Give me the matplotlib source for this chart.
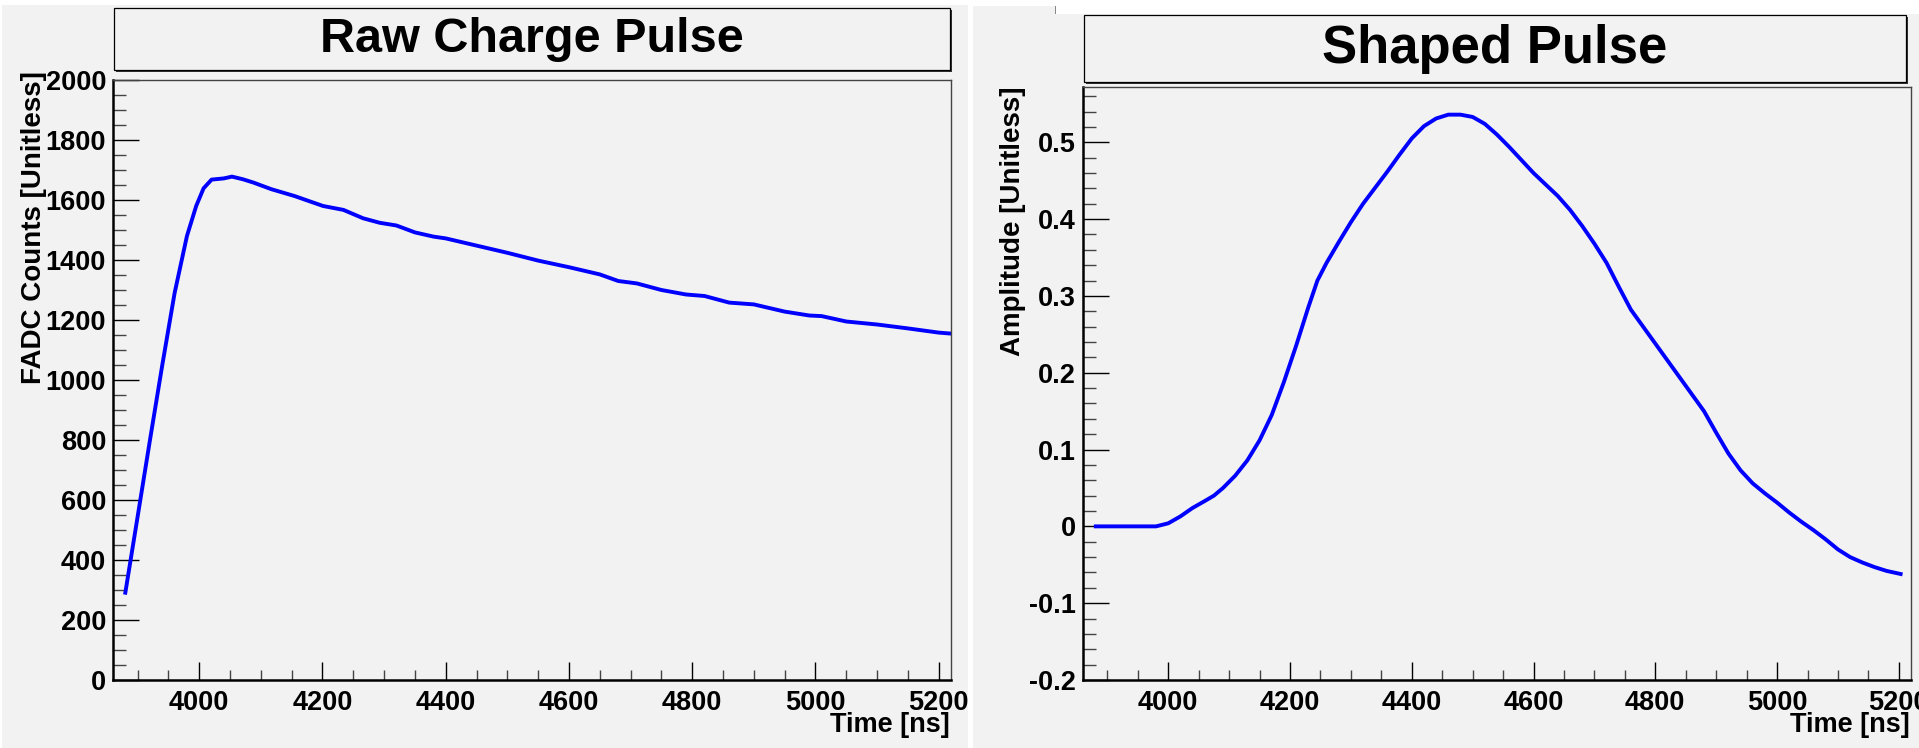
import matplotlib
matplotlib.use("Agg")
import matplotlib.pyplot as plt
from matplotlib.patches import Rectangle
from matplotlib.ticker import MultipleLocator

# raw FADC trace
raw_t = [3880, 3900, 3920, 3940, 3960, 3980, 3995, 4007, 4020, 4040, 4053, 4071,
         4088, 4117, 4155, 4180, 4201, 4234, 4266, 4293, 4320, 4350, 4380, 4400,
         4450, 4500, 4550, 4600, 4650, 4680, 4710, 4750, 4790, 4820, 4860, 4900,
         4950, 4990, 5010, 5050, 5100, 5150, 5200, 5218]
raw_v = [291, 545, 800, 1050, 1290, 1480, 1580, 1639, 1668, 1672, 1678, 1669,
         1658, 1636, 1613, 1595, 1580, 1567, 1539, 1524, 1515, 1492, 1478, 1472,
         1448, 1424, 1398, 1376, 1352, 1330, 1322, 1300, 1285, 1280, 1258, 1252,
         1228, 1215, 1213, 1195, 1185, 1172, 1158, 1155]

# shaped pulse
shp_t = [3881, 3980, 4000, 4020, 4040, 4060, 4075, 4090, 4110, 4130, 4150, 4170,
         4190, 4210, 4230, 4245, 4260, 4280, 4300, 4320, 4340, 4360, 4380, 4400,
         4420, 4440, 4460, 4480, 4500, 4520, 4540, 4560, 4580, 4600, 4620, 4640,
         4660, 4680, 4700, 4720, 4740, 4760, 4780, 4800, 4820, 4840, 4860, 4880,
         4900, 4920, 4940, 4960, 4980, 5000, 5020, 5040, 5060, 5080, 5100, 5120,
         5140, 5160, 5180, 5203]
shp_v = [0.0, 0.0, 0.004, 0.013, 0.024, 0.033, 0.040, 0.050, 0.066, 0.086, 0.112,
         0.145, 0.188, 0.235, 0.285, 0.320, 0.343, 0.370, 0.396, 0.420, 0.441,
         0.462, 0.484, 0.505, 0.521, 0.531, 0.536, 0.536, 0.533, 0.524, 0.510,
         0.494, 0.477, 0.460, 0.445, 0.430, 0.412, 0.391, 0.368, 0.343, 0.312,
         0.282, 0.260, 0.238, 0.216, 0.194, 0.172, 0.150, 0.122, 0.095, 0.073,
         0.056, 0.043, 0.031, 0.018, 0.006, -0.005, -0.017, -0.030, -0.040,
         -0.047, -0.053, -0.058, -0.062]

W, H = 1919, 748
BG = "#f2f2f2"
FONT = "Liberation Sans"


def box(x0, y0, x1, y1):
    # pixel box (top-left origin) -> figure fraction rect
    return [x0 / W, 1 - y1 / H, (x1 - x0) / W, (y1 - y0) / H]


fig = plt.figure(figsize=(W / 100, H / 100), dpi=100, facecolor="white")

# pad backgrounds (plus the sliver of another window peeking above the right pad)
for x0, y0, x1, y1 in [(2, 5, 968, 748), (973, 14, 1919, 748), (973, 6, 1055, 14)]:
    r = box(x0, y0, x1, y1)
    fig.patches.append(Rectangle((r[0], r[1]), r[2], r[3], transform=fig.transFigure,
                                 facecolor=BG, edgecolor="none", zorder=-10))
r = box(1055, 6, 1056, 14)
fig.patches.append(Rectangle((r[0], r[1]), r[2], r[3], transform=fig.transFigure,
                             facecolor="#888888", edgecolor="none", zorder=-9))


def title_box(x0, y0, x1, y1, text, size):
    r = box(x0, y0, x1, y1)
    sx, sy = 2 / W, 2 / H
    fig.patches.append(Rectangle((r[0] + sx, r[1] - sy), r[2], r[3], transform=fig.transFigure,
                                 facecolor="#333333", edgecolor="none", zorder=1))
    fig.patches.append(Rectangle((r[0], r[1]), r[2], r[3], transform=fig.transFigure,
                                 facecolor=BG, edgecolor="black", linewidth=0.9, zorder=2))
    fig.text(r[0] + r[2] / 2, r[1] + r[3] / 2, text, ha="center", va="center",
             fontsize=size, fontweight="bold", family=FONT, zorder=3)


def style_axes(ax, xmaj, xmin, ymaj, ymin):
    ax.set_facecolor(BG)
    ax.xaxis.set_major_locator(MultipleLocator(xmaj))
    ax.xaxis.set_minor_locator(MultipleLocator(xmin))
    ax.yaxis.set_major_locator(MultipleLocator(ymaj))
    ax.yaxis.set_minor_locator(MultipleLocator(ymin))
    ax.tick_params(which="both", direction="in", top=False, right=False, width=1.0)
    ax.tick_params(axis="x", which="major", length=13, pad=7, color="black")
    ax.tick_params(axis="x", which="minor", length=7, color="#444444")
    ax.tick_params(axis="y", which="major", length=18.5, pad=5, color="black")
    ax.tick_params(axis="y", which="minor", length=9.5, color="#444444")
    for side in ("left", "bottom"):
        ax.spines[side].set_linewidth(1.8)
        ax.spines[side].set_color("black")
    for side in ("top", "right"):
        ax.spines[side].set_linewidth(1.0)
        ax.spines[side].set_color("#444444")
    for lab in ax.get_xticklabels() + ax.get_yticklabels():
        lab.set_family(FONT)
        lab.set_fontweight("bold")
        lab.set_fontsize(19.5)


# left pad
title_box(114, 8, 950, 70, "Raw Charge Pulse", 35)
ax1 = fig.add_axes(box(113, 80, 951, 680))
ax1.plot(raw_t, raw_v, color="#0000ff", linewidth=2.8)
ax1.set_xlim(3860, 5220)
ax1.set_ylim(0, 2000)
style_axes(ax1, 200, 50, 200, 50)
fig.text(950 / W, 1 - 725 / H, "Time [ns]", ha="right", va="center",
         fontsize=19.5, fontweight="bold", family=FONT)
fig.text(34 / W, 1 - 71 / H, "FADC Counts [Unitless]", ha="center", va="top",
         rotation=90, fontsize=20, fontweight="bold", family=FONT)

# right pad
title_box(1084, 15, 1906, 82, "Shaped Pulse", 38)
ax2 = fig.add_axes(box(1083, 87, 1911, 680))
ax2.plot(shp_t, shp_v, color="#0000ff", linewidth=2.8)
ax2.set_xlim(3860, 5220)
ax2.set_ylim(-0.2, 0.572)
style_axes(ax2, 200, 50, 0.1, 0.02)
ax2.set_yticks([-0.2, -0.1, 0, 0.1, 0.2, 0.3, 0.4, 0.5])
ax2.set_yticklabels(["-0.2", "-0.1", "0", "0.1", "0.2", "0.3", "0.4", "0.5"],
                    family=FONT, fontweight="bold", fontsize=19.5)
fig.text(1910 / W, 1 - 725 / H, "Time [ns]", ha="right", va="center",
         fontsize=19.5, fontweight="bold", family=FONT)
fig.text(1013 / W, 1 - 86 / H, "Amplitude [Unitless]", ha="center", va="top",
         rotation=90, fontsize=20, fontweight="bold", family=FONT)

fig.savefig("out.png", dpi=100, facecolor="white")
